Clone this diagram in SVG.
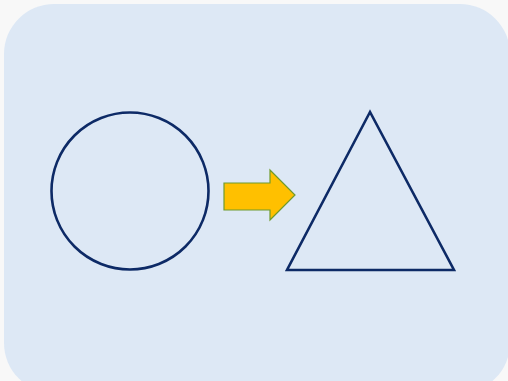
<svg xmlns="http://www.w3.org/2000/svg" width="508" height="381" viewBox="0 0 508 381">
<style>
.shape{fill:none;stroke:#0d2a66;stroke-width:2.6;stroke-linejoin:miter}
.arrow{fill:#ffc000;stroke:#6f9a2e;stroke-width:1.2}
</style>
<rect x="0" y="0" width="508" height="381" fill="#f8f8f8"/>
<rect x="4" y="4" width="506" height="389" rx="50" ry="50" fill="#dde8f5"/>
<g id="circle">
<circle class="shape" cx="130" cy="191" r="78.5"/>
</g>
<g id="triangle">
<polygon class="shape" points="370,112 287,270 454,270"/>
</g>
<g id="connectors">
<polygon class="arrow" points="224,183 270,183 270,170 295,195 270,220 270,210 224,210"/>
</g>
</svg>
